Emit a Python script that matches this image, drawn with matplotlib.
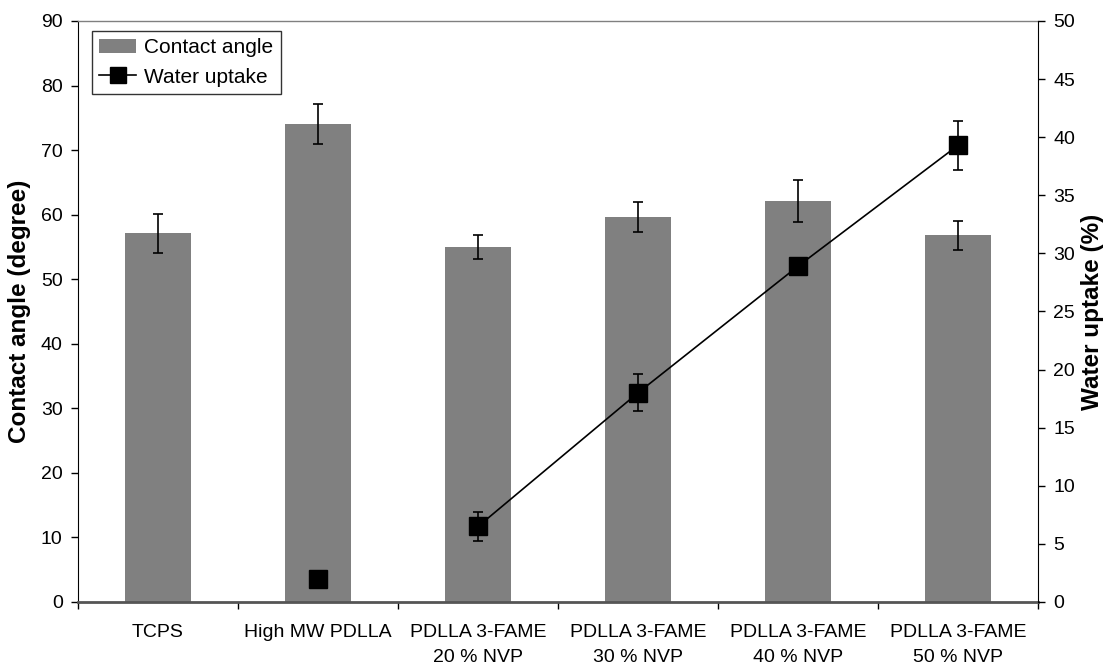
import numpy as np
import matplotlib.pyplot as plt
from matplotlib.lines import Line2D
from matplotlib.patches import Patch

plt.rcParams['font.family'] = ['Liberation Sans', 'DejaVu Sans']

# ---------------------------------------------------
# DATOS
# ---------------------------------------------------
muestras = ['TCPS', 'High MW PDLLA', 'PDLLA 3-FAME\n20 % NVP', 'PDLLA 3-FAME\n30 % NVP',
            'PDLLA 3-FAME\n40 % NVP', 'PDLLA 3-FAME\n50 % NVP']
angulo = [57.1, 74.0, 55.0, 59.6, 62.1, 56.8]
angulo_err = [3.0, 3.1, 1.9, 2.35, 3.3, 2.25]
absorcion = [np.nan, 2.0, 6.5, 18.0, 28.9, 39.3]
absorcion_err = [np.nan, 0.0, 1.25, 1.6, 0.0, 2.1]

x = np.arange(len(muestras))

# ---------------------------------------------------
# GRÁFICO
# ---------------------------------------------------
fig = plt.figure(figsize=(11.09, 6.66), dpi=100)
ax = fig.add_axes([78 / 1109, 1 - 602 / 666, 960 / 1109, 581 / 666])

ax.bar(x, angulo, width=0.41, color='#808080', zorder=1)
ax.errorbar(x, angulo, yerr=angulo_err, fmt='none', ecolor='black',
            elinewidth=1.2, capsize=3.5, capthick=1.2, zorder=2)

ax.set_xlim(-0.5, len(muestras) - 0.5)
ax.set_ylim(0, 90)
ax.set_yticks(np.arange(0, 91, 10))
ax.set_xticks(np.arange(-0.5, len(muestras), 1.0))
ax.set_xticklabels([])
ax.set_xticks(x, minor=True)
ax.set_xticklabels(muestras, minor=True, fontsize=14, linespacing=1.6)
ax.tick_params(axis='x', which='major', direction='out', length=5, width=1, color='black')
ax.tick_params(axis='x', which='minor', length=0, pad=16)
ax.tick_params(axis='y', direction='out', length=5, width=1, labelsize=14, pad=6)
ax.set_ylabel('Contact angle (degree)', fontsize=17.5, fontweight='bold')
ax.yaxis.set_label_coords(-47 / 960, 0.5)

ax.spines['top'].set_color('#808080')
ax.spines['top'].set_linewidth(1)
ax.spines['bottom'].set_color('#555555')
ax.spines['bottom'].set_linewidth(2)
ax.spines['left'].set_color('black')
ax.spines['right'].set_visible(False)

ax2 = ax.twinx()
ax2.set_ylim(0, 50)
ax2.set_yticks(np.arange(0, 51, 5))
ax2.tick_params(axis='y', direction='out', length=5, width=1, labelsize=14, pad=6)
ax2.set_ylabel('Water uptake (%)', fontsize=17.5, fontweight='bold')
ax2.yaxis.set_label_coords(1 + 43 / 960, 0.5)
for s in ['top', 'bottom', 'left']:
    ax2.spines[s].set_visible(False)
ax2.spines['right'].set_color('black')

# línea solo entre las formulaciones 3-FAME
ax2.plot(x[2:], absorcion[2:], color='black', linewidth=1.2, zorder=3)
ax2.errorbar(x, absorcion, yerr=absorcion_err, fmt='none', ecolor='black',
             elinewidth=1.2, capsize=3.5, capthick=1.2, zorder=3)
ax2.plot(x, absorcion, linestyle='none', marker='s', markersize=13,
         color='black', zorder=4)

handles = [Patch(facecolor='#808080', edgecolor='none', label='Contact angle'),
           Line2D([], [], color='black', linewidth=1.2, marker='s', markersize=11,
                  label='Water uptake')]
leg = ax2.legend(handles=handles, loc='upper left', bbox_to_anchor=(14 / 960, 1 - 10 / 581),
                 fontsize=15, frameon=True, fancybox=False, edgecolor='black',
                 handlelength=1.75, handletextpad=0.4, borderpad=0.35, labelspacing=0.5,
                 borderaxespad=0)
leg.get_frame().set_linewidth(1)

plt.savefig('out.png', dpi=100, facecolor='white')
plt.close()
